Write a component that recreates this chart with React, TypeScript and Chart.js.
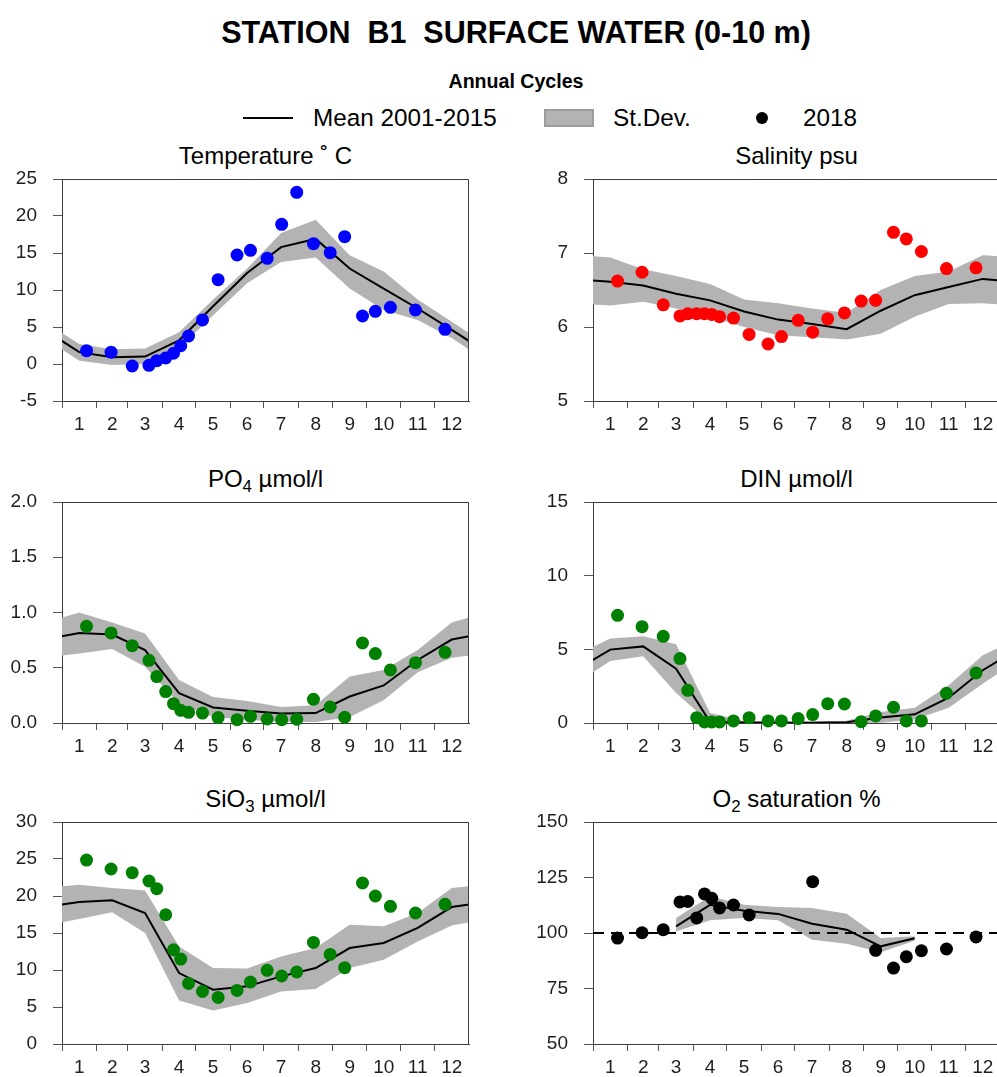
import React, { useEffect, useRef } from "react";
import { Chart, registerables } from "chart.js";

Chart.register(...registerables);

const FONT = "'Liberation Sans', Arial, Helvetica, sans-serif";
const TICK_COLOR = "#1e1e1e";
const AXIS_COLOR = "#3c3c3c";
const BAND_COLOR = "#b3b3b3";

// ---------- shared axis data ----------
const yearLength = 365;
const monthStartDays = [0, 31, 59, 90, 120, 151, 181, 212, 243, 273, 304, 334];
const monthMidDays = [15.5, 45, 74.5, 105, 135.5, 166, 196.5, 227.5, 258, 288.5, 319, 349.5];
const monthLabels = ["1", "2", "3", "4", "5", "6", "7", "8", "9", "10", "11", "12"];
const sampleDays2018 = [22, 44, 63, 78, 85, 93, 100, 106.5, 113.5, 126, 140, 157, 169, 184, 197, 210.5, 225.5, 240.5, 253.5, 269.5, 281, 294.5, 317, 343.5];

// ---------- Temperature ----------
const temperatureTicks = [-5, 0, 5, 10, 15, 20, 25];
const temperatureMean = [1.6, 0.9, 1.0, 3.2, 7.8, 12.3, 15.8, 16.9, 12.9, 10.2, 7.5, 4.6];
const temperatureUpper = [2.7, 2.0, 2.1, 4.3, 8.7, 12.9, 17.7, 19.5, 14.7, 12.5, 8.7, 5.7];
const temperatureLower = [0.45, -0.14, 0.0, 2.1, 6.6, 10.9, 13.8, 14.4, 10.2, 7.3, 5.95, 3.5];
const temperature2018 = [1.8, 1.6, -0.27, -0.18, 0.45, 0.81, 1.45, 2.47, 3.78, 5.95, 11.4, 14.73, 15.36, 14.28, 18.88, 23.2, 16.26, 15.04, 17.2, 6.49, 7.12, 7.66, 7.3, 4.69];

// ---------- Salinity ----------
const salinityTicks = [5, 6, 7, 8];
const salinityMean = [6.61, 6.56, 6.45, 6.36, 6.21, 6.1, 6.04, 5.97, 6.22, 6.43, 6.54, 6.65];
const salinityUpper = [6.94, 6.78, 6.69, 6.58, 6.37, 6.32, 6.25, 6.19, 6.5, 6.69, 6.75, 6.97];
const salinityLower = [6.29, 6.34, 6.25, 6.14, 6.0, 5.89, 5.86, 5.83, 5.91, 6.14, 6.31, 6.32];
const salinity2018 = [6.62, 6.74, 6.3, 6.15, 6.18, 6.18, 6.18, 6.17, 6.14, 6.12, 5.9, 5.77, 5.87, 6.09, 5.93, 6.11, 6.19, 6.35, 6.36, 7.28, 7.19, 7.02, 6.79, 6.8];

// ---------- PO4 ----------
const phosphateTicks = [0, 0.5, 1.0, 1.5, 2.0];
const phosphateMean = [0.815, 0.8, 0.66, 0.27, 0.14, 0.11, 0.085, 0.09, 0.24, 0.34, 0.57, 0.755];
const phosphateUpper = [1.0, 0.91, 0.81, 0.39, 0.235, 0.2, 0.145, 0.16, 0.42, 0.48, 0.66, 0.91];
const phosphateLower = [0.63, 0.67, 0.51, 0.175, 0.055, 0.03, 0.01, 0.01, 0.055, 0.205, 0.46, 0.59];
const phosphate2018 = [0.875, 0.815, 0.7, 0.567, 0.42, 0.284, 0.175, 0.115, 0.097, 0.09, 0.049, 0.03, 0.06, 0.036, 0.03, 0.035, 0.214, 0.145, 0.052, 0.724, 0.628, 0.48, 0.546, 0.64];

// ---------- DIN ----------
const dinTicks = [0, 5, 10, 15];
const dinMean = [4.98, 5.2, 3.69, 0.07, 0.03, 0.02, 0.02, 0.05, 0.37, 0.59, 1.72, 3.58];
const dinUpper = [5.73, 5.88, 5.34, 0.68, 0.14, 0.1, 0.1, 0.15, 0.75, 1.04, 2.56, 4.6];
const dinLower = [4.21, 4.53, 2.04, 0, 0, 0, 0, 0, 0.02, 0.23, 1.04, 2.67];
const din2018 = [7.31, 6.54, 5.88, 4.37, 2.22, 0.36, 0.07, 0.07, 0.07, 0.14, 0.36, 0.14, 0.14, 0.3, 0.57, 1.31, 1.29, 0.09, 0.48, 1.07, 0.14, 0.14, 2.02, 3.4];

// ---------- SiO3 ----------
const silicateTicks = [0, 5, 10, 15, 20, 25, 30];
const silicateMean = [19.19, 19.41, 17.7, 9.59, 7.34, 7.79, 9.14, 10.27, 12.97, 13.65, 15.68, 18.51];
const silicateUpper = [21.53, 21.08, 20.76, 13.19, 10.27, 10.2, 11.84, 12.97, 16.12, 15.9, 17.7, 21.08];
const silicateLower = [16.89, 17.79, 15.0, 5.89, 4.54, 5.54, 7.11, 7.43, 10.27, 11.39, 13.86, 16.03];
const silicate2018 = [24.86, 23.65, 23.15, 22.03, 20.99, 17.47, 12.74, 11.48, 8.19, 7.11, 6.3, 7.24, 8.38, 9.95, 9.19, 9.73, 13.73, 12.11, 10.31, 21.76, 20.0, 18.6, 17.7, 18.87];

// ---------- O2 saturation ----------
const oxygenTicks = [50, 75, 100, 125, 150];
const oxygenReference = 100;
const oxygenMean = [null, null, 103.0, 112.7, 110.0, 108.6, 104.2, 101.5, 94.0, 97.6, null, null];
const oxygenUpper = [null, null, 106.8, 116.5, 112.7, 111.7, 111.3, 108.7, 97.7, 98.5, null, null];
const oxygenLower = [null, null, 100.7, 105.7, 106.8, 105.7, 97.0, 95.2, 91.3, 96.5, null, null];
const oxygen2018 = [97.7, 100.1, 101.5, 114.0, 114.2, 106.8, 117.6, 115.6, 111.3, 112.6, 108.1, null, null, null, 123.1, null, null, null, 92.2, 84.2, 89.3, 92.0, 92.8, 98.2];

type Val = number | null;

type PanelSpec = {
  id: string;
  title: React.ReactNode;
  column: 0 | 1;
  row: 0 | 1 | 2;
  ticks: number[];
  decimals: number;
  mean: Val[];
  upper: Val[];
  lower: Val[];
  obs: Val[];
  color: string;
  reference?: number;
};

const Sub = ({ children }: { children: React.ReactNode }) => (
  <span style={{ fontSize: "0.7em", position: "relative", top: "0.32em" }}>{children}</span>
);

const panels: PanelSpec[] = [
  { id: "temp", title: <>Temperature ˚ C</>, column: 0, row: 0, ticks: temperatureTicks, decimals: 0, mean: temperatureMean, upper: temperatureUpper, lower: temperatureLower, obs: temperature2018, color: "#0000ff" },
  { id: "sal", title: <>Salinity psu</>, column: 1, row: 0, ticks: salinityTicks, decimals: 0, mean: salinityMean, upper: salinityUpper, lower: salinityLower, obs: salinity2018, color: "#ff0000" },
  { id: "po4", title: <>PO<Sub>4</Sub> µmol/l</>, column: 0, row: 1, ticks: phosphateTicks, decimals: 1, mean: phosphateMean, upper: phosphateUpper, lower: phosphateLower, obs: phosphate2018, color: "#008000" },
  { id: "din", title: <>DIN µmol/l</>, column: 1, row: 1, ticks: dinTicks, decimals: 0, mean: dinMean, upper: dinUpper, lower: dinLower, obs: din2018, color: "#008000" },
  { id: "sio3", title: <>SiO<Sub>3</Sub> µmol/l</>, column: 0, row: 2, ticks: silicateTicks, decimals: 0, mean: silicateMean, upper: silicateUpper, lower: silicateLower, obs: silicate2018, color: "#008000" },
  { id: "o2", title: <>O<Sub>2</Sub> saturation %</>, column: 1, row: 2, ticks: oxygenTicks, decimals: 0, mean: oxygenMean, upper: oxygenUpper, lower: oxygenLower, obs: oxygen2018, color: "#000000", reference: oxygenReference },
];

// layout (pixels of the page)
const COL_LEFT = [0, 531];
const CANVAS_W = 480;
const Y_AXIS_W = 62;
const PAD_RIGHT = 11;
const PAD_TOP = 20;
const X_AXIS_H = 40;
const ROW_TOP = [179, 502, 822];
const ROW_PLOT_H = [222, 221, 222];
const TITLE_FONT = 24;

function cyclicSeries(values: Val[]) {
  const pts = monthMidDays.map((d, i) => ({ x: d, y: values[i] }));
  return [
    { x: monthMidDays[11] - yearLength, y: values[11] },
    ...pts,
    { x: monthMidDays[0] + yearLength, y: values[0] },
  ];
}

function samplePoints(values: Val[]) {
  return sampleDays2018.map((d, i) => ({ x: d, y: values[i] }));
}

const framePlugin = {
  id: "frameBox",
  afterDatasetsDraw(chart: any) {
    const { ctx, chartArea: a } = chart;
    ctx.save();
    ctx.strokeStyle = AXIS_COLOR;
    ctx.lineWidth = 1;
    ctx.beginPath();
    ctx.moveTo(a.left, a.top + 0.5);
    ctx.lineTo(a.right - 0.5, a.top + 0.5);
    ctx.lineTo(a.right - 0.5, a.bottom);
    ctx.stroke();
    ctx.restore();
  },
};

function makeReferencePlugin(value?: number) {
  return {
    id: "referenceLine",
    beforeDatasetDraw(chart: any, args: any) {
      if (value === undefined || args.index !== 1) return;
      const { ctx, chartArea: a } = chart;
      const y = Math.round(chart.scales.y.getPixelForValue(value));
      ctx.save();
      ctx.strokeStyle = "#000";
      ctx.lineWidth = 2;
      ctx.setLineDash([11, 7]);
      ctx.beginPath();
      ctx.moveTo(a.left, y);
      ctx.lineTo(a.right, y);
      ctx.stroke();
      ctx.restore();
    },
  };
}

function Panel({ spec }: { spec: PanelSpec }) {
  const ref = useRef<HTMLCanvasElement | null>(null);
  const left = COL_LEFT[spec.column];
  const plotTop = ROW_TOP[spec.row];
  const plotH = ROW_PLOT_H[spec.row];
  const canvasTop = plotTop - PAD_TOP;
  const canvasH = PAD_TOP + plotH + X_AXIS_H;
  const plotCenterX = left + Y_AXIS_W + (CANVAS_W - Y_AXIS_W - PAD_RIGHT) / 2;

  useEffect(() => {
    if (!ref.current) return;
    const tickFont = { family: FONT, size: 19 };
    const chart = new Chart(ref.current, {
      type: "line",
      data: {
        datasets: [
          {
            data: samplePoints(spec.obs),
            showLine: false,
            pointRadius: 6.5,
            pointBorderWidth: 0,
            pointBackgroundColor: spec.color,
            pointBorderColor: spec.color,
            order: 0,
            clip: false,
          } as any,
          {
            data: cyclicSeries(spec.mean),
            borderColor: "#000",
            borderWidth: 2,
            pointRadius: 0,
            tension: 0,
            fill: false,
            order: 1,
          },
          {
            data: cyclicSeries(spec.upper),
            borderColor: "rgba(0,0,0,0)",
            borderWidth: 0,
            pointRadius: 0,
            tension: 0,
            fill: "+1",
            backgroundColor: BAND_COLOR,
            order: 2,
          },
          {
            data: cyclicSeries(spec.lower),
            borderColor: "rgba(0,0,0,0)",
            borderWidth: 0,
            pointRadius: 0,
            tension: 0,
            fill: false,
            order: 3,
          },
        ],
      },
      options: {
        animation: false,
        responsive: false,
        events: [],
        layout: { padding: { top: PAD_TOP, right: PAD_RIGHT, left: 0, bottom: 0 } },
        plugins: { legend: { display: false }, tooltip: { enabled: false }, title: { display: false } },
        scales: {
          x: {
            type: "linear",
            min: 0,
            max: yearLength,
            afterBuildTicks: (scale: any) => {
              scale.ticks = [...monthStartDays, ...monthMidDays]
                .sort((a, b) => a - b)
                .map((v) => ({ value: v }));
            },
            afterFit: (scale: any) => {
              scale.height = X_AXIS_H;
              scale.paddingLeft = 0;
              scale.paddingRight = 0;
            },
            ticks: {
              autoSkip: false,
              maxRotation: 0,
              minRotation: 0,
              padding: 5,
              color: TICK_COLOR,
              font: tickFont,
              callback: (value: any) => {
                const i = monthMidDays.indexOf(Number(value));
                return i >= 0 ? monthLabels[i] : "";
              },
            },
            grid: {
              drawOnChartArea: false,
              drawTicks: true,
              tickLength: 7,
              color: AXIS_COLOR,
              tickColor: (ctx: any) =>
                ctx.tick && monthMidDays.includes(ctx.tick.value) ? "rgba(0,0,0,0)" : "#555",
            },
            border: { display: true, color: AXIS_COLOR, width: 1 },
          },
          y: {
            type: "linear",
            min: spec.ticks[0],
            max: spec.ticks[spec.ticks.length - 1],
            afterBuildTicks: (scale: any) => {
              scale.ticks = spec.ticks.map((v) => ({ value: v }));
            },
            afterFit: (scale: any) => {
              scale.width = Y_AXIS_W;
              scale.paddingTop = 0;
              scale.paddingBottom = 0;
            },
            ticks: {
              padding: 16,
              color: TICK_COLOR,
              font: tickFont,
              callback: (value: any) => Number(value).toFixed(spec.decimals),
            },
            grid: {
              drawOnChartArea: false,
              drawTicks: true,
              tickLength: 9,
              color: "#555",
            },
            border: { display: true, color: AXIS_COLOR, width: 1 },
          },
        },
      } as any,
      plugins: [framePlugin, makeReferencePlugin(spec.reference)],
    });
    return () => chart.destroy();
  }, [spec]);

  return (
    <>
      <div
        style={{
          position: "absolute",
          left: plotCenterX,
          top: plotTop - 23.3 - 0.49 * TITLE_FONT,
          transform: "translateX(-50%)",
          fontSize: TITLE_FONT,
          lineHeight: 1,
          whiteSpace: "pre",
          color: "#000",
        }}
      >
        {spec.title}
      </div>
      <canvas
        ref={ref}
        width={CANVAS_W}
        height={canvasH}
        style={{ position: "absolute", left, top: canvasTop, width: CANVAS_W, height: canvasH }}
      />
    </>
  );
}

export default function App() {
  return (
    <div
      style={{
        position: "absolute",
        left: 0,
        top: 0,
        width: 997,
        height: 1077,
        overflow: "hidden",
        background: "#fff",
        fontFamily: FONT,
        color: "#000",
      }}
    >
      <div
        style={{
          position: "absolute",
          left: 516,
          top: 16.5,
          transform: "translateX(-50%)",
          fontSize: 30.5,
          fontWeight: "bold",
          lineHeight: 1,
          whiteSpace: "pre",
        }}
      >
        STATION  B1  SURFACE WATER (0-10 m)
      </div>
      <div
        style={{
          position: "absolute",
          left: 516,
          top: 72,
          transform: "translateX(-50%)",
          fontSize: 19.6,
          fontWeight: "bold",
          lineHeight: 1,
          whiteSpace: "pre",
        }}
      >
        Annual Cycles
      </div>
      {/* legend */}
      <div style={{ position: "absolute", left: 243, top: 116.5, width: 50, height: 2, background: "#000" }} />
      <div style={{ position: "absolute", left: 313, top: 105.7, fontSize: 24.3, lineHeight: 1, whiteSpace: "pre" }}>
        Mean 2001-2015
      </div>
      <div
        style={{
          position: "absolute",
          left: 544,
          top: 108.5,
          width: 50,
          height: 18,
          background: BAND_COLOR,
          border: "2px solid #9d9d9d",
          boxSizing: "border-box",
        }}
      />
      <div style={{ position: "absolute", left: 613, top: 105.7, fontSize: 24.3, lineHeight: 1, whiteSpace: "pre" }}>
        St.Dev.
      </div>
      <div
        style={{
          position: "absolute",
          left: 755.5,
          top: 111.5,
          width: 12,
          height: 12,
          borderRadius: "50%",
          background: "#000",
        }}
      />
      <div style={{ position: "absolute", left: 803, top: 105.7, fontSize: 24.3, lineHeight: 1, whiteSpace: "pre" }}>
        2018
      </div>
      {panels.map((p) => (
        <Panel key={p.id} spec={p} />
      ))}
    </div>
  );
}
